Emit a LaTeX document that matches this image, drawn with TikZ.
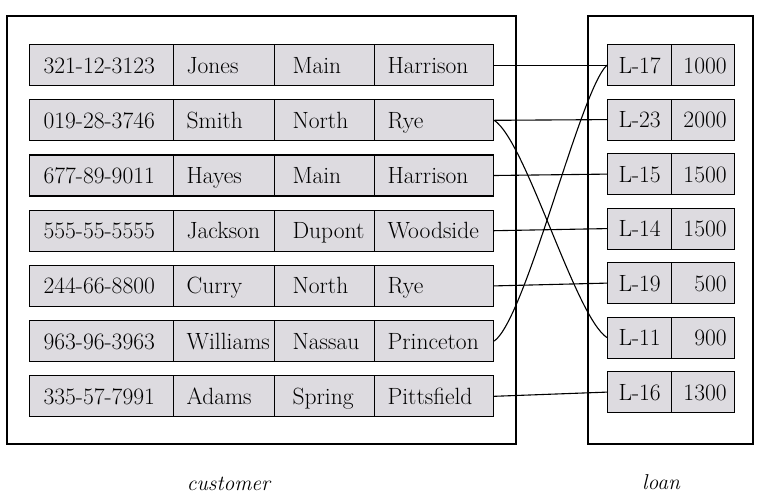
\documentclass[tikz,border=0pt]{standalone}
\usepackage{fontspec}
\definecolor{cellfill}{RGB}{221,219,224}
\tikzset{
  cell/.style={draw, fill=cellfill, line width=1.2pt, anchor=north west,
    minimum height=41pt, inner ysep=0pt, text height=18pt, text depth=2pt,
    font=\fontsize{23.5}{26}\selectfont},
  ca/.style={inner xsep=14pt, text width=116pt, align=left},
  cb/.style={inner xsep=13pt, text width=75pt, align=left},
  cc/.style={inner xsep=18pt, text width=64pt, align=left},
  cd/.style={inner xsep=13pt, text width=93pt, align=left},
  la/.style={inner xsep=8pt, text width=48pt, align=center},
  lb/.style={inner xsep=8pt, text width=47pt, align=right},
  outerbox/.style={draw, line width=1.3pt, inner sep=0pt},
  link/.style={line width=1.1pt},
  caption/.style={font=\fontsize{21.5}{24}\selectfont\itshape, anchor=base, inner sep=0pt}
}
\newcommand\custrow[6]{%
  \node[cell, ca] (c#1a) at (29,#2) {#3};
  \node[cell, cb] (c#1b) at (173,#2) {#4};
  \node[cell, cc] (c#1c) at (274,#2) {#5};
  \node[cell, cd] (c#1d) at (374,#2) {#6};
}
\newcommand\loanrow[4]{%
  \node[cell, la] (l#1a) at (607,#2) {#3};
  \node[cell, lb] (l#1b) at (671,#2) {#4\hspace*{5pt}};
}
\begin{document}
\begin{tikzpicture}[x=1pt, y=-1pt]
  \useasboundingbox (0,0) rectangle (759,499);
  \node[outerbox, minimum width=509pt, minimum height=428pt] (custbox) at (261.5,230) {};
  \node[outerbox, minimum width=165pt, minimum height=428pt] (loanbox) at (670.5,230) {};

  \custrow{1}{44}{321-12-3123}{Jones}{Main}{Harrison}
  \custrow{2}{99.2}{019-28-3746}{Smith}{North}{Rye}
  \custrow{3}{154.4}{677-89-9011}{Hayes}{Main}{Harrison}
  \custrow{4}{209.6}{555-55-5555}{Jackson}{Dupont}{Woodside}
  \custrow{5}{264.8}{244-66-8800}{Curry}{North}{Rye}
  \custrow{6}{320}{963-96-3963}{Williams}{Nassau}{Princeton}
  \custrow{7}{375.2}{335-57-7991}{Adams}{Spring}{Pittsfield}

  \loanrow{1}{44}{L-17}{1000}
  \loanrow{2}{98.5}{L-23}{2000}
  \loanrow{3}{153}{L-15}{1500}
  \loanrow{4}{207.5}{L-14}{1500}
  \loanrow{5}{262}{L-19}{500}
  \loanrow{6}{316.5}{L-11}{900}
  \loanrow{7}{371}{L-16}{1300}

  \draw[link] (c1d.east) -- (l1a.west);
  \draw[link] (c2d.east) -- (l2a.west);
  \draw[link] (c3d.east) -- (l3a.west);
  \draw[link] (c4d.east) -- (l4a.west);
  \draw[link] (c5d.east) -- (l5a.west);
  \draw[link] (c7d.east) -- (l7a.west);
  \draw[link] (c2d.east) .. controls +(32,21) and +(-32,-21) .. (l6a.west);
  \draw[link] (c6d.east) .. controls +(32,-23) and +(-27,25) .. (l1a.west);

  \node[caption] (custlabel) at (228.5,490) {customer};
  \node[caption] (loanlabel) at (661,489) {loan};
\end{tikzpicture}
\end{document}
